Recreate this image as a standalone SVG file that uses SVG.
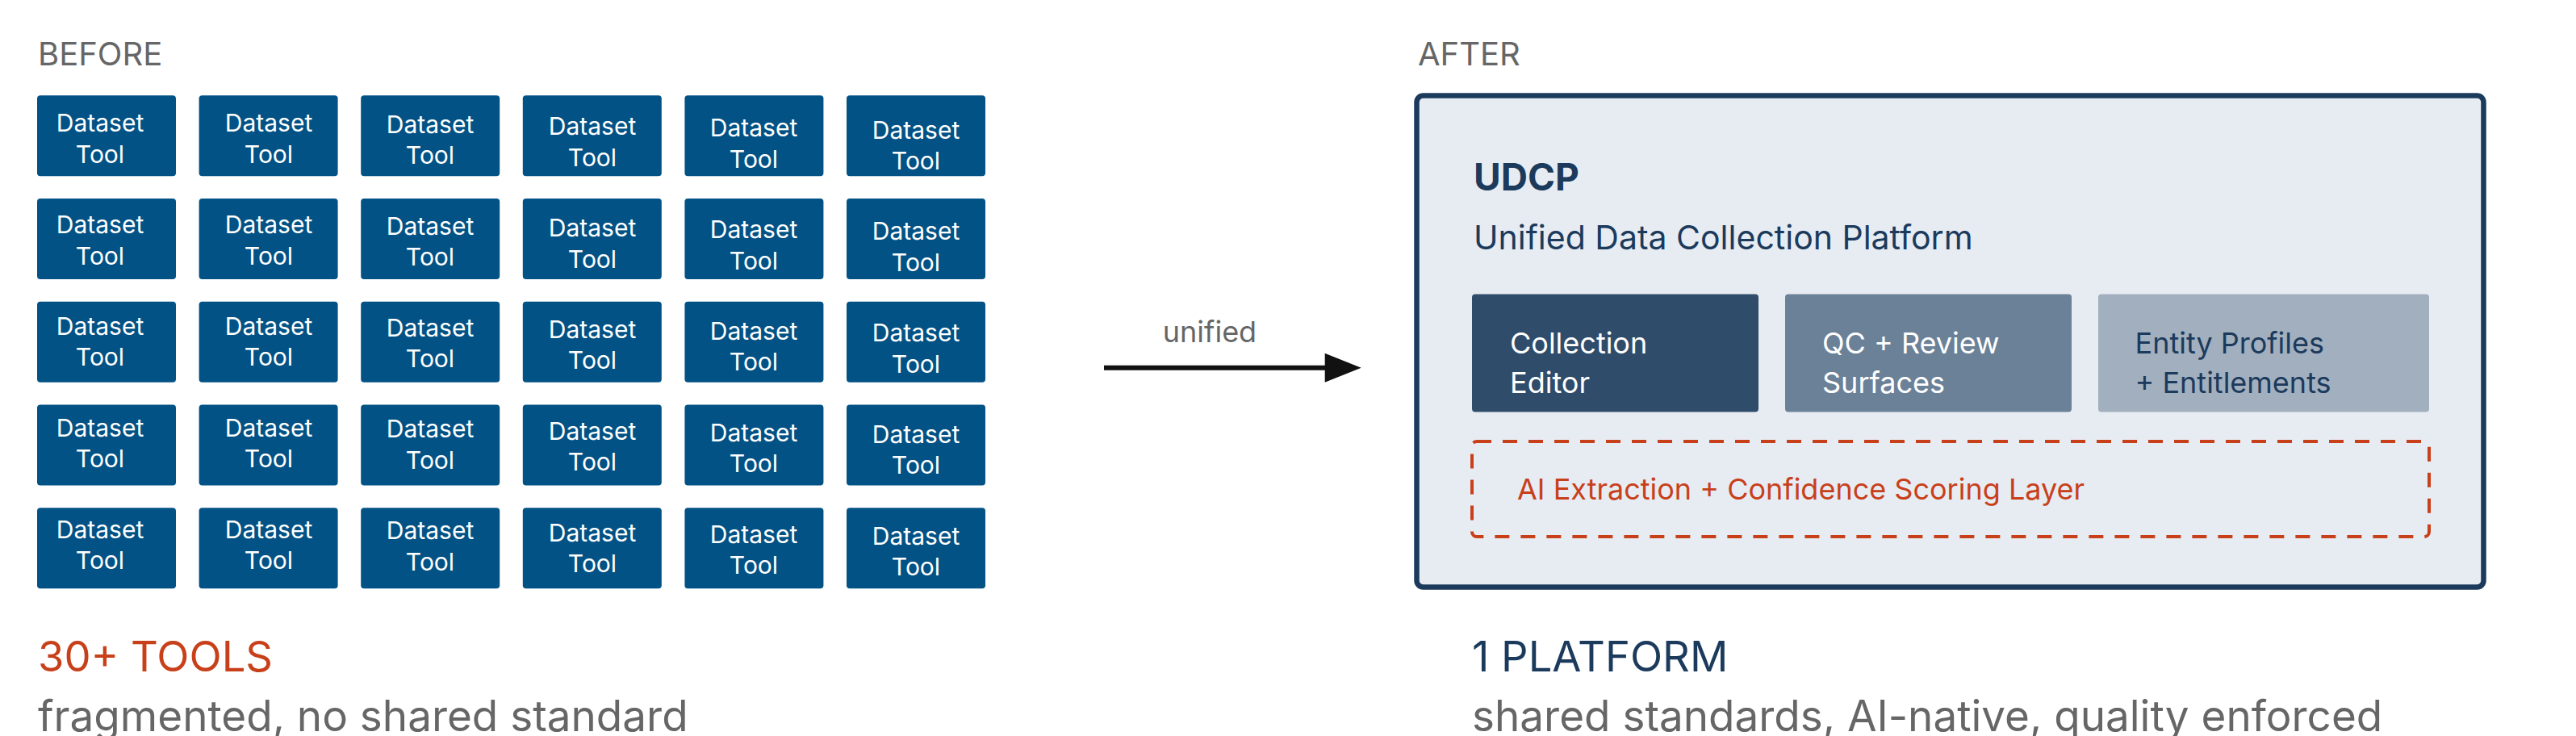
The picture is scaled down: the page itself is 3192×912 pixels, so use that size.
<svg xmlns="http://www.w3.org/2000/svg" width="3192" height="912" viewBox="0 0 3192 912">
<style>
text{font-family:Inter,"Liberation Sans",sans-serif}
.lbl{font-size:40px;fill:#666666}
.tool{fill:#025285}
.tt{font-size:30px;fill:#ffffff;text-anchor:middle}
.big{font-size:52.5px}
.sub{font-size:53px;fill:#666666}
.mod{font-size:36px}
</style>
<rect width="3192" height="912" fill="#ffffff"/>
<text class="lbl" x="47" y="81">BEFORE</text>
<text class="lbl" x="1757" y="81">AFTER</text>

<g id="tools">
<g id="t-0-0"><rect class="tool" x="46" y="118.3" width="172" height="100" rx="4"/><text class="tt" x="124" y="163.3">Dataset<tspan x="124" dy="38.4">Tool</tspan></text></g>
<g id="t-0-1"><rect class="tool" x="246.6" y="118.3" width="172" height="100" rx="4"/><text class="tt" x="333" y="163.3">Dataset<tspan x="333" dy="38.4">Tool</tspan></text></g>
<g id="t-0-2"><rect class="tool" x="447.2" y="118.3" width="172" height="100" rx="4"/><text class="tt" x="533" y="165">Dataset<tspan x="533" dy="38.4">Tool</tspan></text></g>
<g id="t-0-3"><rect class="tool" x="647.8" y="118.3" width="172" height="100" rx="4"/><text class="tt" x="734" y="167.3">Dataset<tspan x="734" dy="38.4">Tool</tspan></text></g>
<g id="t-0-4"><rect class="tool" x="848.4" y="118.3" width="172" height="100" rx="4"/><text class="tt" x="934" y="169.3">Dataset<tspan x="934" dy="38.4">Tool</tspan></text></g>
<g id="t-0-5"><rect class="tool" x="1049" y="118.3" width="172" height="100" rx="4"/><text class="tt" x="1135" y="171.6">Dataset<tspan x="1135" dy="38.4">Tool</tspan></text></g>

<g id="t-1-0"><rect class="tool" x="46" y="246.05" width="172" height="100" rx="4"/><text class="tt" x="124" y="289.1">Dataset<tspan x="124" dy="38.4">Tool</tspan></text></g>
<g id="t-1-1"><rect class="tool" x="246.6" y="246.05" width="172" height="100" rx="4"/><text class="tt" x="333" y="289.1">Dataset<tspan x="333" dy="38.4">Tool</tspan></text></g>
<g id="t-1-2"><rect class="tool" x="447.2" y="246.05" width="172" height="100" rx="4"/><text class="tt" x="533" y="290.8">Dataset<tspan x="533" dy="38.4">Tool</tspan></text></g>
<g id="t-1-3"><rect class="tool" x="647.8" y="246.05" width="172" height="100" rx="4"/><text class="tt" x="734" y="293.1">Dataset<tspan x="734" dy="38.4">Tool</tspan></text></g>
<g id="t-1-4"><rect class="tool" x="848.4" y="246.05" width="172" height="100" rx="4"/><text class="tt" x="934" y="295.1">Dataset<tspan x="934" dy="38.4">Tool</tspan></text></g>
<g id="t-1-5"><rect class="tool" x="1049" y="246.05" width="172" height="100" rx="4"/><text class="tt" x="1135" y="297.4">Dataset<tspan x="1135" dy="38.4">Tool</tspan></text></g>

<g id="t-2-0"><rect class="tool" x="46" y="373.8" width="172" height="100" rx="4"/><text class="tt" x="124" y="414.9">Dataset<tspan x="124" dy="38.4">Tool</tspan></text></g>
<g id="t-2-1"><rect class="tool" x="246.6" y="373.8" width="172" height="100" rx="4"/><text class="tt" x="333" y="414.9">Dataset<tspan x="333" dy="38.4">Tool</tspan></text></g>
<g id="t-2-2"><rect class="tool" x="447.2" y="373.8" width="172" height="100" rx="4"/><text class="tt" x="533" y="416.6">Dataset<tspan x="533" dy="38.4">Tool</tspan></text></g>
<g id="t-2-3"><rect class="tool" x="647.8" y="373.8" width="172" height="100" rx="4"/><text class="tt" x="734" y="418.9">Dataset<tspan x="734" dy="38.4">Tool</tspan></text></g>
<g id="t-2-4"><rect class="tool" x="848.4" y="373.8" width="172" height="100" rx="4"/><text class="tt" x="934" y="420.9">Dataset<tspan x="934" dy="38.4">Tool</tspan></text></g>
<g id="t-2-5"><rect class="tool" x="1049" y="373.8" width="172" height="100" rx="4"/><text class="tt" x="1135" y="423.2">Dataset<tspan x="1135" dy="38.4">Tool</tspan></text></g>

<g id="t-3-0"><rect class="tool" x="46" y="501.55" width="172" height="100" rx="4"/><text class="tt" x="124" y="540.7">Dataset<tspan x="124" dy="38.4">Tool</tspan></text></g>
<g id="t-3-1"><rect class="tool" x="246.6" y="501.55" width="172" height="100" rx="4"/><text class="tt" x="333" y="540.7">Dataset<tspan x="333" dy="38.4">Tool</tspan></text></g>
<g id="t-3-2"><rect class="tool" x="447.2" y="501.55" width="172" height="100" rx="4"/><text class="tt" x="533" y="542.4">Dataset<tspan x="533" dy="38.4">Tool</tspan></text></g>
<g id="t-3-3"><rect class="tool" x="647.8" y="501.55" width="172" height="100" rx="4"/><text class="tt" x="734" y="544.7">Dataset<tspan x="734" dy="38.4">Tool</tspan></text></g>
<g id="t-3-4"><rect class="tool" x="848.4" y="501.55" width="172" height="100" rx="4"/><text class="tt" x="934" y="546.7">Dataset<tspan x="934" dy="38.4">Tool</tspan></text></g>
<g id="t-3-5"><rect class="tool" x="1049" y="501.55" width="172" height="100" rx="4"/><text class="tt" x="1135" y="549">Dataset<tspan x="1135" dy="38.4">Tool</tspan></text></g>

<g id="t-4-0"><rect class="tool" x="46" y="629.3" width="172" height="100" rx="4"/><text class="tt" x="124" y="666.5">Dataset<tspan x="124" dy="38.4">Tool</tspan></text></g>
<g id="t-4-1"><rect class="tool" x="246.6" y="629.3" width="172" height="100" rx="4"/><text class="tt" x="333" y="666.5">Dataset<tspan x="333" dy="38.4">Tool</tspan></text></g>
<g id="t-4-2"><rect class="tool" x="447.2" y="629.3" width="172" height="100" rx="4"/><text class="tt" x="533" y="668.2">Dataset<tspan x="533" dy="38.4">Tool</tspan></text></g>
<g id="t-4-3"><rect class="tool" x="647.8" y="629.3" width="172" height="100" rx="4"/><text class="tt" x="734" y="670.5">Dataset<tspan x="734" dy="38.4">Tool</tspan></text></g>
<g id="t-4-4"><rect class="tool" x="848.4" y="629.3" width="172" height="100" rx="4"/><text class="tt" x="934" y="672.5">Dataset<tspan x="934" dy="38.4">Tool</tspan></text></g>
<g id="t-4-5"><rect class="tool" x="1049" y="629.3" width="172" height="100" rx="4"/><text class="tt" x="1135" y="674.8">Dataset<tspan x="1135" dy="38.4">Tool</tspan></text></g>
</g>

<g id="before-caption">
<text class="big" x="47" y="832" fill="#c8401a">30+ TOOLS</text>
<text class="sub" x="47" y="906">fragmented, no shared standard</text>
</g>

<g id="connectors">
<line x1="1368" y1="455.7" x2="1644" y2="455.7" stroke="#111111" stroke-width="6"/>
<polygon points="1641.7,437.7 1686.7,455.7 1641.7,473.7" fill="#111111"/>
<text x="1499" y="424" font-size="36" fill="#666666" text-anchor="middle">unified</text>
</g>

<g id="udcp">
<rect x="1755.5" y="118.5" width="1322" height="609" rx="8" fill="#e7ecf3" stroke="#1b3a5c" stroke-width="6.5"/>
<text x="1826" y="236" font-size="46" font-weight="700" fill="#1b3a5c">UDCP</text>
<text x="1826" y="309" font-size="41" fill="#1b3a5c">Unified Data Collection Platform</text>
</g>

<g id="collection-editor">
<rect x="1824" y="364.5" width="355" height="146" rx="4" fill="#2f4c6a"/>
<text class="mod" x="1871" y="437.5" fill="#ffffff">Collection<tspan x="1871" dy="49">Editor</tspan></text>
</g>

<g id="qc-review">
<rect x="2212" y="364.5" width="355" height="146" rx="4" fill="#6b8198"/>
<text class="mod" x="2258" y="437.5" fill="#ffffff">QC + Review<tspan x="2258" dy="49">Surfaces</tspan></text>
</g>

<g id="entity-profiles">
<rect x="2600" y="364.5" width="410" height="146" rx="4" fill="#a2afbe"/>
<text class="mod" x="2645.5" y="437.5" fill="#1b3a5c">Entity Profiles<tspan x="2645.5" dy="49">+ Entitlements</tspan></text>
</g>

<g id="ai-layer">
<rect x="1824" y="547" width="1186" height="118" rx="6" fill="none" stroke="#c8401a" stroke-width="4" stroke-dasharray="18 14"/>
<text class="mod" x="1880" y="619" fill="#c8401a">AI Extraction + Confidence Scoring Layer</text>
</g>

<g id="after-caption">
<text class="big" x="1824" y="832" fill="#1b3a5c">1 PLATFORM</text>
<text class="sub" x="1824" y="906">shared standards, AI-native, quality enforced</text>
</g>
</svg>
